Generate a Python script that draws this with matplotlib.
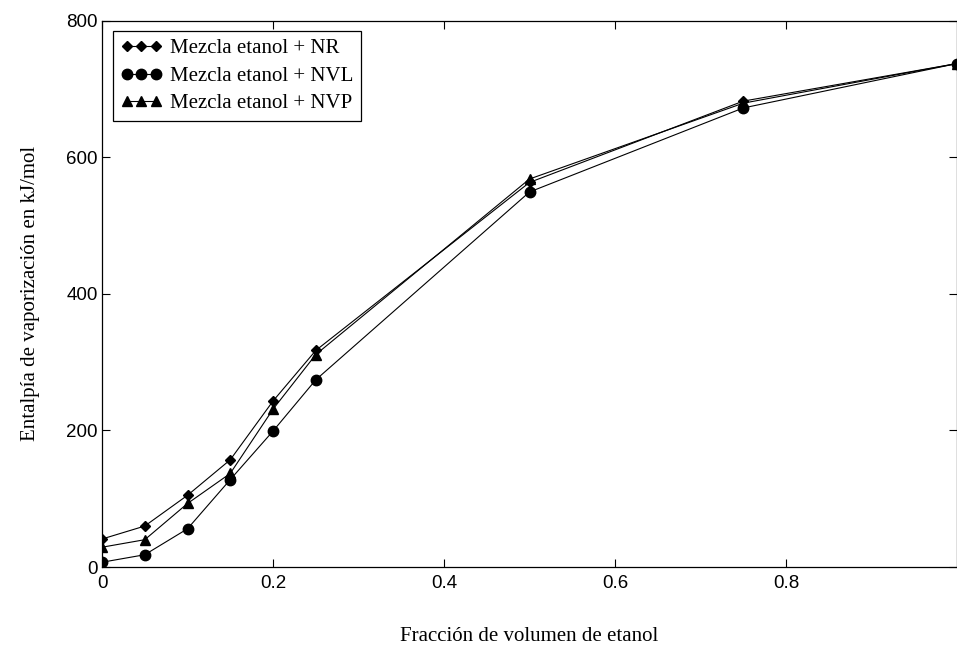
import matplotlib
matplotlib.use('Agg')
import matplotlib.pyplot as plt

# fraccion de volumen de etanol
x = [0, 0.05, 0.10, 0.15, 0.20, 0.25, 0.50, 0.75, 1.0]

# entalpia de vaporizacion (kJ/mol)
nr  = [41, 60, 105, 157, 243, 317, 563, 682, 737]
nvl = [7, 18, 56, 128, 199, 274, 549, 672, 737]
nvp = [29, 40, 93, 137, 231, 311, 568, 679, 737]

SERIF = ['Liberation Serif', 'DejaVu Serif']
SANS = ['Liberation Sans', 'DejaVu Sans']

fig = plt.figure(figsize=(9.57, 6.47), dpi=100)
ax = fig.add_axes([0.1066, 0.1236, 0.8934, 0.8447])

ax.plot(x, nr, color='black', lw=0.8, marker='D', ms=5.5, label='Mezcla etanol + NR')
ax.plot(x, nvl, color='black', lw=0.8, marker='o', ms=7.5, label='Mezcla etanol + NVL')
ax.plot(x, nvp, color='black', lw=0.8, marker='^', ms=7, label='Mezcla etanol + NVP')

ax.set_xlim(0, 1)
ax.set_ylim(0, 800)
ax.set_xticks([0, 0.2, 0.4, 0.6, 0.8])
ax.set_xticklabels(['0', '0.2', '0.4', '0.6', '0.8'], family=SANS, fontsize=13.5)
ax.set_yticks([0, 200, 400, 600, 800])
ax.set_yticklabels(['0', '200', '400', '600', '800'], family=SANS, fontsize=13.5)
ax.tick_params(direction='in', top=True, right=True, length=6, width=0.8)
ax.tick_params(axis='x', pad=6)
ax.tick_params(axis='y', pad=3)
for s in ax.spines.values():
    s.set_linewidth(0.9)

ax.set_xlabel('Fracción de volumen de etanol', family=SERIF, fontsize=15, labelpad=25)
ax.set_ylabel('Entalpía de vaporización en kJ/mol', family=SERIF, fontsize=15, labelpad=19)

leg = ax.legend(loc='upper left', bbox_to_anchor=(0.013, 0.98), numpoints=3,
                handlelength=2.0, handletextpad=0.4, borderpad=0.35, labelspacing=0.38,
                borderaxespad=0, fancybox=False, edgecolor='black', framealpha=1,
                prop={'family': SERIF, 'size': 15})
leg.get_frame().set_linewidth(0.9)

fig.savefig('out.png', dpi=100, facecolor='white')
plt.close()
